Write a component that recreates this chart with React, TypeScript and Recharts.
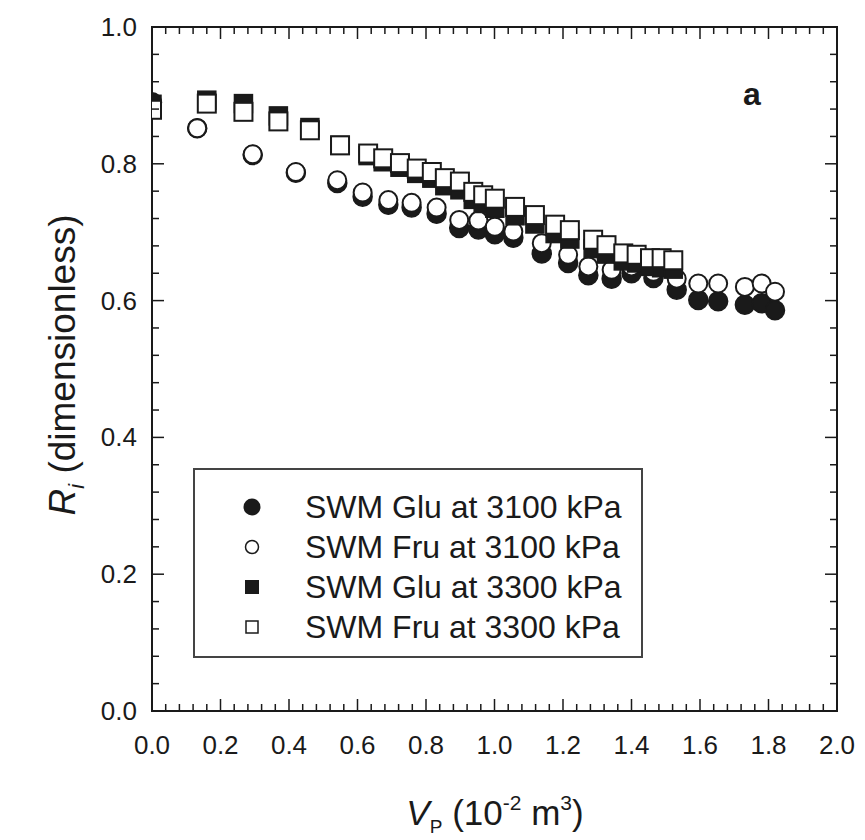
import React from "react";
import {
  ScatterChart,
  Scatter,
  XAxis,
  YAxis,
  Legend,
} from "recharts";

// V_P (10^-2 m^3) and R_i readings per series
const vGlu3100 = [0.0, 0.132, 0.294, 0.42, 0.541, 0.615, 0.69, 0.758, 0.831, 0.897, 0.953, 1.001, 1.055, 1.138, 1.215, 1.274, 1.342, 1.4, 1.464, 1.532, 1.595, 1.653, 1.731, 1.78, 1.819];
const rGlu3100 = [0.89, 0.852, 0.813, 0.787, 0.772, 0.752, 0.74, 0.736, 0.727, 0.706, 0.704, 0.697, 0.692, 0.669, 0.655, 0.637, 0.632, 0.64, 0.633, 0.616, 0.601, 0.599, 0.594, 0.596, 0.586];

const vFru3100 = [0.0, 0.132, 0.294, 0.42, 0.541, 0.615, 0.69, 0.758, 0.831, 0.897, 0.953, 1.001, 1.055, 1.138, 1.215, 1.274, 1.342, 1.4, 1.464, 1.532, 1.595, 1.653, 1.731, 1.78, 1.819];
const rFru3100 = [0.88, 0.852, 0.814, 0.788, 0.776, 0.758, 0.747, 0.743, 0.736, 0.718, 0.717, 0.708, 0.701, 0.684, 0.667, 0.65, 0.645, 0.65, 0.642, 0.632, 0.625, 0.625, 0.62, 0.625, 0.613];

const vGlu3300 = [0.0, 0.16, 0.267, 0.369, 0.461, 0.549, 0.631, 0.675, 0.724, 0.773, 0.817, 0.855, 0.899, 0.938, 0.967, 1.001, 1.06, 1.118, 1.177, 1.22, 1.288, 1.327, 1.376, 1.415, 1.454, 1.488, 1.522];
const rGlu3300 = [0.887, 0.893, 0.888, 0.87, 0.853, 0.827, 0.812, 0.803, 0.795, 0.786, 0.779, 0.768, 0.762, 0.748, 0.742, 0.735, 0.724, 0.712, 0.698, 0.69, 0.676, 0.668, 0.658, 0.655, 0.65, 0.648, 0.646];

const vFru3300 = [0.0, 0.16, 0.267, 0.369, 0.461, 0.549, 0.631, 0.675, 0.724, 0.773, 0.817, 0.855, 0.899, 0.938, 0.967, 1.001, 1.06, 1.118, 1.177, 1.22, 1.288, 1.327, 1.376, 1.415, 1.454, 1.488, 1.522];
const rFru3300 = [0.879, 0.888, 0.876, 0.862, 0.849, 0.827, 0.815, 0.808, 0.801, 0.793, 0.788, 0.779, 0.774, 0.759, 0.754, 0.749, 0.737, 0.725, 0.711, 0.703, 0.689, 0.681, 0.669, 0.667, 0.662, 0.662, 0.659];

const seriesNames = [
  "SWM Glu at 3100 kPa",
  "SWM Fru at 3100 kPa",
  "SWM Glu at 3300 kPa",
  "SWM Fru at 3300 kPa",
];

const xMajor = [0.0, 0.2, 0.4, 0.6, 0.8, 1.0, 1.2, 1.4, 1.6, 1.8, 2.0];
const yMajor = [0.0, 0.2, 0.4, 0.6, 0.8, 1.0];
const xTicks = Array.from({ length: 51 }, (_, i) => +(i * 0.04).toFixed(2));
const yTicks = Array.from({ length: 26 }, (_, i) => +(i * 0.04).toFixed(2));

const toPoints = (vs: number[], rs: number[]) => vs.map((v, i) => ({ v, r: rs[i] }));

const FONT = "'Liberation Sans', Arial, sans-serif";
const INK = "#1a1a1a";
const MAJOR = 12;
const MINOR = 7;

// chart box
const W = 857;
const H = 832;
const MARGIN = { top: 19, right: 28, bottom: 0, left: 0 };
const Y_AXIS_W = 144;
const X_AXIS_H = 129;
const PLOT_X = MARGIN.left + Y_AXIS_W;
const PLOT_Y = MARGIN.top;
const PLOT_W = W - MARGIN.left - MARGIN.right - Y_AXIS_W;
const PLOT_H = H - MARGIN.top - MARGIN.bottom - X_AXIS_H;

const isMajor = (v: number, majors: number[]) => majors.some((m) => Math.abs(m - v) < 1e-6);

// ticks point inward on all four sides; top/right marks mirror the bottom/left ones
const BottomTick = (props: any) => {
  const { x, payload } = props;
  const len = isMajor(payload.value, xMajor) ? MAJOR : MINOR;
  const bottom = PLOT_Y + PLOT_H;
  return (
    <g>
      <line x1={x} x2={x} y1={bottom} y2={bottom - len} stroke={INK} strokeWidth={1.5} />
      <line x1={x} x2={x} y1={PLOT_Y} y2={PLOT_Y + len} stroke={INK} strokeWidth={1.5} />
      {len === MAJOR && (
        <text x={x} y={bottom + 43} textAnchor="middle" fontSize={26} fontFamily={FONT} fill={INK}>
          {payload.value.toFixed(1)}
        </text>
      )}
    </g>
  );
};

const LeftTick = (props: any) => {
  const { y, payload } = props;
  const len = isMajor(payload.value, yMajor) ? MAJOR : MINOR;
  const right = PLOT_X + PLOT_W;
  return (
    <g>
      <line x1={PLOT_X} x2={PLOT_X + len} y1={y} y2={y} stroke={INK} strokeWidth={1.5} />
      <line x1={right} x2={right - len} y1={y} y2={y} stroke={INK} strokeWidth={1.5} />
      {len === MAJOR && (
        <text x={PLOT_X - 15} y={y + 9} textAnchor="end" fontSize={26} fontFamily={FONT} fill={INK}>
          {payload.value.toFixed(1)}
        </text>
      )}
    </g>
  );
};

const filledCircle = (p: any) => <circle cx={p.cx} cy={p.cy} r={9.5} fill={INK} stroke={INK} strokeWidth={1.5} />;
const openCircle = (p: any) => <circle cx={p.cx} cy={p.cy} r={9} fill="#fff" stroke={INK} strokeWidth={2} />;
const filledSquare = (p: any) => <rect x={p.cx - 9} y={p.cy - 9} width={18} height={18} fill={INK} stroke={INK} strokeWidth={1.5} />;
const openSquare = (p: any) => <rect x={p.cx - 9} y={p.cy - 9} width={18} height={18} fill="#fff" stroke={INK} strokeWidth={2} />;

const legendMarkers = [
  <circle cx={10} cy={10} r={8.5} fill={INK} />,
  <circle cx={10} cy={10} r={6.5} fill="#fff" stroke={INK} strokeWidth={1.5} />,
  <rect x={3} y={3} width={14} height={14} fill={INK} />,
  <rect x={4} y={4} width={12} height={12} fill="#fff" stroke={INK} strokeWidth={1.5} />,
];

const renderLegend = () => (
  <div
    style={{
      width: 450,
      height: 190,
      boxSizing: "border-box",
      border: "2px solid #444",
      background: "#fff",
      fontFamily: FONT,
      fontSize: 32,
      color: INK,
      paddingTop: 17,
    }}
  >
    {seriesNames.map((name, i) => (
      <div key={name} style={{ display: "flex", alignItems: "center", height: 40 }}>
        <svg width={20} height={20} style={{ marginLeft: 47, marginRight: 43 }}>
          {legendMarkers[i]}
        </svg>
        <span>{name}</span>
      </div>
    ))}
  </div>
);

export default function App() {
  return (
    <ScatterChart width={W} height={H} margin={MARGIN}>
      <rect x={PLOT_X} y={PLOT_Y} width={PLOT_W} height={PLOT_H} fill="none" stroke={INK} strokeWidth={2} />
      <XAxis
        dataKey="v"
        type="number"
        domain={[0, 2]}
        ticks={xTicks}
        interval={0}
        tickSize={0}
        tickMargin={0}
        tick={BottomTick}
        height={X_AXIS_H}
        axisLine={false}
        allowDataOverflow
      />
      <YAxis
        dataKey="r"
        type="number"
        domain={[0, 1]}
        ticks={yTicks}
        interval={0}
        tickSize={0}
        tickMargin={0}
        tick={LeftTick}
        width={Y_AXIS_W}
        axisLine={false}
        allowDataOverflow
      />
      <Scatter name={seriesNames[0]} data={toPoints(vGlu3100, rGlu3100)} shape={filledCircle} isAnimationActive={false} />
      <Scatter name={seriesNames[1]} data={toPoints(vFru3100, rFru3100)} shape={openCircle} isAnimationActive={false} />
      <Scatter name={seriesNames[2]} data={toPoints(vGlu3300, rGlu3300)} shape={filledSquare} isAnimationActive={false} />
      <Scatter name={seriesNames[3]} data={toPoints(vFru3300, rFru3300)} shape={openSquare} isAnimationActive={false} />
      <Legend
        layout="vertical"
        align="center"
        verticalAlign="middle"
        content={renderLegend}
        wrapperStyle={{ left: 185, top: 460, width: 450, height: 190 }}
      />
      <text x={744} y={97} textAnchor="middle" fontSize={32} fontWeight="bold" fontFamily={FONT} fill={INK}>
        a
      </text>
      <text
        transform="translate(67, 357) rotate(-90)"
        textAnchor="middle"
        fontSize={37}
        fontFamily={FONT}
        fill={INK}
      >
        <tspan fontStyle="italic">R</tspan>
        <tspan fontStyle="italic" fontSize={22} dy={9}>i</tspan>
        <tspan dy={-9}> (dimensionless)</tspan>
      </text>
      <text x={487} y={817} textAnchor="middle" fontSize={35} fontFamily={FONT} fill={INK}>
        <tspan fontStyle="italic">V</tspan>
        <tspan fontSize={19} dy={8}>P</tspan>
        <tspan dy={-8}> (10</tspan>
        <tspan fontSize={21} dy={-15}>-2</tspan>
        <tspan dy={15}> m</tspan>
        <tspan fontSize={21} dy={-15}>3</tspan>
        <tspan dy={15}>)</tspan>
      </text>
    </ScatterChart>
  );
}
